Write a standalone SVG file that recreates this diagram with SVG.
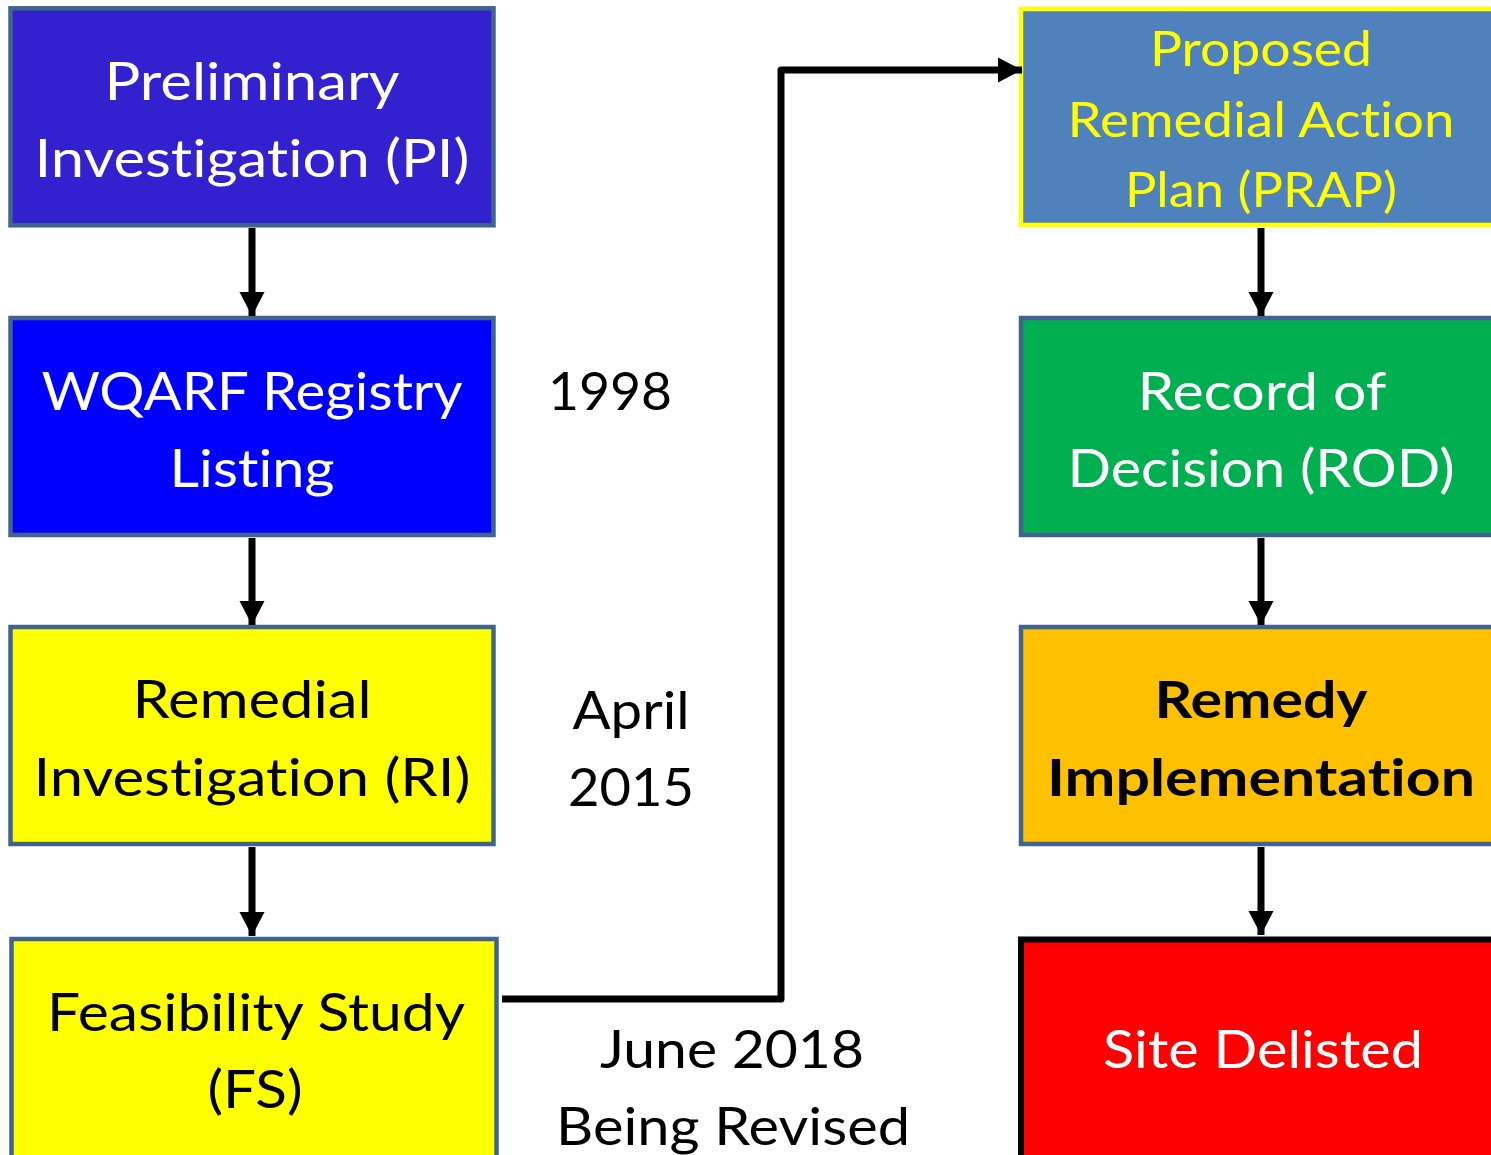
<svg xmlns="http://www.w3.org/2000/svg" width="1491" height="1155" viewBox="0 0 1491 1155">
<style>
  .box { stroke: #41648f; stroke-width: 4.5; }
  .t { font-family: Lato, "Open Sans", "Liberation Sans", sans-serif; font-size: 52px; text-anchor: middle; font-variant-ligatures: none; }
  .w { fill: #ffffff; }
  .k { fill: #000000; }
  .y { fill: #ffff00; }
  .b { font-weight: bold; }
  .conn { fill: none; stroke: #000000; stroke-width: 7; stroke-linejoin: round; }
</style>
<defs>
  <marker id="ah" markerUnits="userSpaceOnUse" markerWidth="26" markerHeight="26" refX="24" refY="13" orient="auto" viewBox="0 0 26 26">
    <path d="M0,0.5 L24,13 L0,25.5 z" fill="#000000"/>
  </marker>
</defs>
<rect width="1491" height="1155" fill="#ffffff"/>

<g id="pi">
  <rect class="box" x="10.5" y="8.3" width="483" height="217" fill="#3320cf"/>
  <text class="t w" x="252" y="100" textLength="295" lengthAdjust="spacingAndGlyphs">Preliminary</text>
  <text class="t w" x="252" y="177" textLength="435" lengthAdjust="spacingAndGlyphs">Investigation (PI)</text>
</g>
<g id="wqarf">
  <rect class="box" x="10.5" y="318" width="483" height="217" fill="#0000ff"/>
  <text class="t w" x="252" y="410" textLength="421" lengthAdjust="spacingAndGlyphs">WQARF Registry</text>
  <text class="t w" x="252" y="487" textLength="165" lengthAdjust="spacingAndGlyphs">Listing</text>
</g>
<g id="ri">
  <rect class="box" x="10.5" y="627" width="483" height="217" fill="#ffff00"/>
  <text class="t k" x="252" y="718" textLength="239" lengthAdjust="spacingAndGlyphs">Remedial</text>
  <text class="t k" x="252" y="796" textLength="437" lengthAdjust="spacingAndGlyphs">Investigation (RI)</text>
</g>
<g id="fs">
  <rect class="box" x="11.5" y="939" width="485" height="230" fill="#ffff00"/>
  <text class="t k" x="256" y="1031" textLength="418" lengthAdjust="spacingAndGlyphs">Feasibility Study</text>
  <text class="t k" x="255" y="1108" textLength="95" lengthAdjust="spacingAndGlyphs">(FS)</text>
</g>

<g id="prap">
  <rect x="1021" y="9" width="490" height="216" fill="#4f81bd" stroke="#ffff00" stroke-width="4.5"/>
  <text class="t y" x="1261" y="66" style="font-size:48px" textLength="222" lengthAdjust="spacingAndGlyphs">Proposed</text>
  <text class="t y" x="1261" y="137" style="font-size:48px" textLength="387" lengthAdjust="spacingAndGlyphs">Remedial Action</text>
  <text class="t y" x="1261" y="207" style="font-size:48px" textLength="272" lengthAdjust="spacingAndGlyphs">Plan (PRAP)</text>
</g>
<g id="rod">
  <rect class="box" x="1021" y="318" width="490" height="217" fill="#00b050"/>
  <text class="t w" x="1262" y="410" textLength="249" lengthAdjust="spacingAndGlyphs">Record of</text>
  <text class="t w" x="1261" y="487" textLength="387" lengthAdjust="spacingAndGlyphs">Decision (ROD)</text>
</g>
<g id="remedy">
  <rect class="box" x="1021" y="627" width="490" height="217" fill="#ffc000"/>
  <text class="t k b" x="1261" y="718" textLength="213" lengthAdjust="spacingAndGlyphs">Remedy</text>
  <text class="t k b" x="1261" y="796" textLength="428" lengthAdjust="spacingAndGlyphs">Implementation</text>
</g>
<g id="delisted">
  <rect x="1021" y="939.5" width="490" height="230" fill="#ff0000" stroke="#000000" stroke-width="6"/>
  <text class="t w" x="1263" y="1068" textLength="320" lengthAdjust="spacingAndGlyphs">Site Delisted</text>
</g>

<g id="labels">
  <text class="t k" x="610" y="410" textLength="124" lengthAdjust="spacingAndGlyphs">1998</text>
  <text class="t k" x="631" y="729" textLength="117" lengthAdjust="spacingAndGlyphs">April</text>
  <text class="t k" x="631" y="806" textLength="126" lengthAdjust="spacingAndGlyphs">2015</text>
  <text class="t k" x="732" y="1068" textLength="264" lengthAdjust="spacingAndGlyphs">June 2018</text>
  <text class="t k" x="733" y="1145" textLength="354" lengthAdjust="spacingAndGlyphs">Being Revised</text>
</g>

<g id="connectors">
  <line class="conn" x1="252" y1="228" x2="252" y2="316" marker-end="url(#ah)"/>
  <line class="conn" x1="252" y1="538" x2="252" y2="625" marker-end="url(#ah)"/>
  <line class="conn" x1="252" y1="847" x2="252" y2="936" marker-end="url(#ah)"/>
  <line class="conn" x1="1261" y1="228" x2="1261" y2="316" marker-end="url(#ah)"/>
  <line class="conn" x1="1261" y1="538" x2="1261" y2="625" marker-end="url(#ah)"/>
  <line class="conn" x1="1261" y1="847" x2="1261" y2="935" marker-end="url(#ah)"/>
  <polyline class="conn" points="502,999 781,999 781,70 1022,70" marker-end="url(#ah)"/>
</g>
</svg>
